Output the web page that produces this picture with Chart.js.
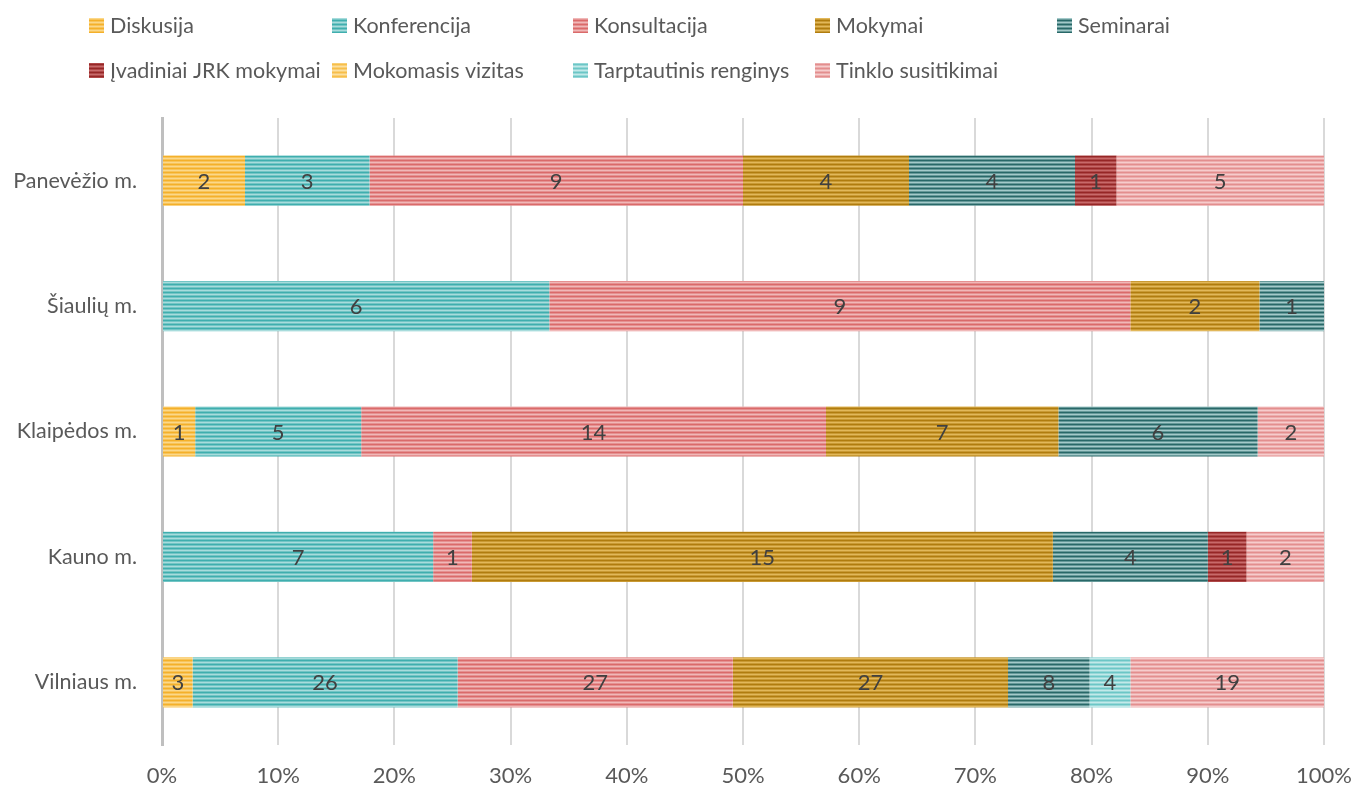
<!DOCTYPE html>
<html><head><meta charset="utf-8">
<script src="https://cdn.jsdelivr.net/npm/chart.js@4"></script>
<style>html,body{margin:0;padding:0;background:#fff}#wrap{width:1354px;height:785px;position:relative}</style>
</head><body><div id="wrap"><canvas id="c" width="1354" height="785"></canvas></div>
<script>
const categories = ['Panevėžio m.','Šiaulių m.','Klaipėdos m.','Kauno m.','Vilniaus m.'];
const seriesNames = ['Diskusija','Konferencija','Konsultacija','Mokymai','Seminarai','Įvadiniai JRK mokymai','Mokomasis vizitas','Tarptautinis renginys','Tinklo susitikimai'];
const diskusija    = [2, 0, 1, 0, 3];
const konferencija = [3, 6, 5, 7, 26];
const konsultacija = [9, 9, 14, 1, 27];
const mokymai      = [4, 2, 7, 15, 27];
const seminarai    = [4, 1, 6, 4, 8];
const ivadiniai    = [1, 0, 0, 1, 0];
const mokomasis    = [0, 0, 0, 0, 0];
const tarptautinis = [0, 0, 0, 0, 4];
const tinklo       = [5, 0, 2, 2, 19];
const xTickValues  = [0,10,20,30,40,50,60,70,80,90,100];

const seriesValues = [diskusija, konferencija, konsultacija, mokymai, seminarai, ivadiniai, mokomasis, tarptautinis, tinklo];
const colors = [
  ['#F4B02A','#FBD88A'],
  ['#3FAEAE','#A8DCDC'],
  ['#DA6A6A','#F0B8B8'],
  ['#B07C0E','#E2B85A'],
  ['#286868','#A4CACA'],
  ['#962626','#C86A6A'],
  ['#F7BE4A','#FCE0A0'],
  ['#6CC6C6','#C2E9E9'],
  ['#E38E8E','#F6CCCC']
];
function makePattern(c){
  const cv=document.createElement('canvas');cv.width=4;cv.height=4;
  const g=cv.getContext('2d');
  g.fillStyle=c[0];g.fillRect(0,0,4,4);
  g.fillStyle=c[1];g.fillRect(0,2,4,1);
  g.globalAlpha=0.5;g.fillRect(0,1,4,1);g.fillRect(0,3,4,1);
  return document.getElementById('c').getContext('2d').createPattern(cv,'repeat');
}
const patterns = colors.map(makePattern);
const totals = categories.map((_,i)=>seriesValues.reduce((s,a)=>s+a[i],0));

const datasets = seriesNames.map((n,k)=>({
  label:n,
  data: seriesValues[k].map((v,i)=>v/totals[i]*100),
  counts: seriesValues[k],
  backgroundColor: patterns[k],
  borderWidth:0,
  barPercentage:0.4,
  categoryPercentage:1
}));

const FONT = 'Lato, "Open Sans", sans-serif';
const FS = 22;
const FS_LEG = 21.5;
const FS_Y = 21.5;

const labelPlugin = {
  id:'labels',
  afterDatasetsDraw(chart){
    const ctx=chart.ctx;
    ctx.save();
    ctx.font=FS+'px '+FONT;ctx.fillStyle='#404040';ctx.textAlign='center';ctx.textBaseline='middle';
    chart.data.datasets.forEach((ds,k)=>{
      const meta=chart.getDatasetMeta(k);
      meta.data.forEach((el,i)=>{
        const v=ds.counts[i];
        if(!v) return;
        const p=el.getProps(['x','base','y'],true);
        ctx.fillText(String(v),(p.x+p.base)/2,p.y+1);
      });
    });
    ctx.restore();
  }
};
const legendCols=[89,332,573,815,1057];
const legendRows=[25,70];
const legendPlugin = {
  id:'customLegend',
  afterDraw(chart){
    const ctx=chart.ctx;
    ctx.save();
    ctx.font=FS_LEG+'px '+FONT;ctx.textBaseline='middle';ctx.textAlign='left';
    seriesNames.forEach((n,k)=>{
      const r=k<5?0:1, c=k<5?k:k-5;
      const x=legendCols[c], y=legendRows[r];
      ctx.fillStyle=patterns[k];
      ctx.fillRect(x,y-7,15,15);
      ctx.fillStyle='#595959';
      ctx.fillText(n,x+21,y+1);
    });
    ctx.restore();
  }
};

new Chart(document.getElementById('c'),{
  type:'bar',
  data:{labels:categories,datasets},
  options:{
    indexAxis:'y',
    responsive:false,
    animation:false,
    layout:{padding:{top:118,right:30,left:0,bottom:0}},
    plugins:{legend:{display:false},tooltip:{enabled:false}},
    scales:{
      x:{
        stacked:true,min:0,max:100,
        afterBuildTicks(s){s.ticks=xTickValues.map(v=>({value:v}));},
        afterFit(s){s.height=40;s.paddingLeft=0;s.paddingRight=0;},
        ticks:{callback:v=>v+'%',color:'#595959',font:{family:FONT,size:FS},padding:18,maxRotation:0,autoSkip:false},
        grid:{color:'#D9D9D9',lineWidth:2,drawTicks:false},
        border:{display:false}
      },
      y:{
        stacked:true,
        afterFit(s){s.width=162;s.paddingTop=0;s.paddingBottom=0;},
        ticks:{color:'#595959',font:{family:FONT,size:FS_Y},padding:25},
        grid:{display:false,drawTicks:false},
        border:{display:true,color:'#BFBFBF',width:3}
      }
    }
  },
  plugins:[labelPlugin,legendPlugin]
});
</script>
</body></html>
